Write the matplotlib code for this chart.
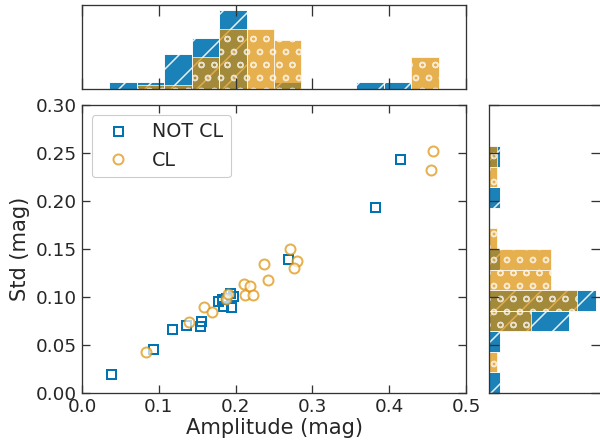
import numpy as np
import matplotlib as mpl
import matplotlib.pyplot as plt

mpl.use('Agg')

# amplitude / std (mag) for the two samples
amp_notcl = [0.0375, 0.0918, 0.1166, 0.135, 0.153, 0.1554, 0.1775, 0.1837,
             0.1945, 0.193, 0.187, 0.196, 0.182, 0.2685, 0.382, 0.4143]
std_notcl = [0.0198, 0.0455, 0.0663, 0.0705, 0.0698, 0.0753, 0.0961, 0.0906,
             0.0892, 0.1038, 0.0985, 0.1012, 0.0975, 0.1396, 0.1934, 0.2437]

amp_cl = [0.0831, 0.1388, 0.1584, 0.1693, 0.1875, 0.190, 0.2106, 0.2119, 0.2193,
          0.2232, 0.2372, 0.2424, 0.2711, 0.2794, 0.2763, 0.4543, 0.4573]
std_cl = [0.0425, 0.0743, 0.0899, 0.084, 0.0976, 0.1031, 0.1132, 0.1018, 0.1115,
          0.1024, 0.134, 0.118, 0.1505, 0.1378, 0.1302, 0.2323, 0.2524]

labels = ['NOT CL', 'CL']
xticks = [0.0, 0.1, 0.2, 0.3, 0.4, 0.5]
yticks = [0.00, 0.05, 0.10, 0.15, 0.20, 0.25, 0.30]

blue = '#0173b2'
orange = '#de8f05'
dark = '#262626'

DPI = 78


def pt(px):
    # sizes below are thought of in output pixels
    return px * 72.0 / DPI


plt.rcParams['axes.edgecolor'] = '#333333'
plt.rcParams['axes.linewidth'] = pt(1.3)
plt.rcParams['text.color'] = dark
plt.rcParams['axes.labelcolor'] = dark
plt.rcParams['xtick.color'] = '#333333'
plt.rcParams['ytick.color'] = '#333333'
plt.rcParams['xtick.labelcolor'] = dark
plt.rcParams['ytick.labelcolor'] = dark
plt.rcParams['hatch.linewidth'] = pt(1.5)

fig = plt.figure(figsize=(600 / DPI, 444 / DPI), dpi=DPI)
ax = fig.add_axes([0.13667, 0.11554, 0.64, 0.6473])
ax_top = fig.add_axes([0.13667, 0.7995, 0.64, 0.1892])
ax_right = fig.add_axes([0.8155, 0.11554, 0.1867, 0.6473])

# scatter
ax.plot(amp_notcl, std_notcl, ls='none', marker='s', ms=pt(9), mew=pt(2),
        mfc='none', mec=blue, label=labels[0])
ax.plot(amp_cl, std_cl, ls='none', marker='o', ms=pt(10), mew=pt(2),
        mfc='white', mec=orange, alpha=0.7, label=labels[1])
ax.set_xlim(0, 0.5)
ax.set_ylim(0, 0.3)
ax.set_xticks(xticks)
ax.set_xticklabels(['%.1f' % t for t in xticks])
ax.set_yticks(yticks)
ax.set_yticklabels(['%.2f' % t for t in yticks])
ax.tick_params(direction='in', top=True, right=True, length=pt(8), width=pt(1.3),
               labelsize=pt(18.4), pad=pt(5))
ax.set_xlabel('Amplitude (mag)', fontsize=pt(21), labelpad=pt(2))
ax.set_ylabel('Std (mag)', fontsize=pt(21), labelpad=pt(6))
ax.legend(loc='upper left', fontsize=pt(19), frameon=True, edgecolor='#cccccc',
          framealpha=1)

# marginal histograms, 14 bins over the axis range
ax_top.hist(amp_notcl, bins=14, range=(0, 0.5), density=True, log=True,
            color=blue, alpha=0.9, hatch='/', edgecolor='white', lw=pt(1))
ax_top.hist(amp_cl, bins=14, range=(0, 0.5), density=True, log=True,
            color=orange, alpha=0.7, hatch='o', edgecolor='white', lw=pt(1))
ax_top.set_xlim(0, 0.5)
ax_top.set_ylim(1.488, 11.8)
ax_top.set_xticks(xticks)
ax_top.yaxis.set_major_locator(mpl.ticker.NullLocator())
ax_top.yaxis.set_minor_locator(mpl.ticker.NullLocator())
ax_top.tick_params(direction='in', top=True, bottom=True, length=pt(11),
                   width=pt(1.3), labelbottom=False)

ax_right.hist(std_notcl, bins=14, range=(0, 0.3), density=True, log=True,
              orientation='horizontal', color=blue, alpha=0.9, hatch='/',
              edgecolor='white', lw=pt(1))
ax_right.hist(std_cl, bins=14, range=(0, 0.3), density=True, log=True,
              orientation='horizontal', color=orange, alpha=0.7, hatch='o',
              edgecolor='white', lw=pt(1))
ax_right.set_ylim(0, 0.3)
ax_right.set_xlim(2.35, 22.6)
ax_right.set_yticks(yticks)
ax_right.xaxis.set_major_locator(mpl.ticker.NullLocator())
ax_right.xaxis.set_minor_locator(mpl.ticker.NullLocator())
ax_right.tick_params(direction='in', left=True, right=True, length=pt(10),
                     width=pt(1.3), labelleft=False)

fig.savefig('out.png', dpi=DPI)
